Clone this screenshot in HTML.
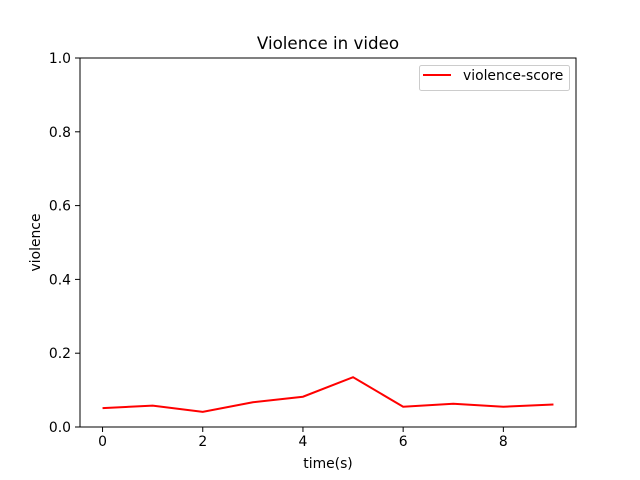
<!DOCTYPE html>
<html><head><meta charset="utf-8"><style>body{margin:0;background:#fff}svg{display:block;font-family:"DejaVu Sans","Liberation Sans",sans-serif}</style></head>
<body>
<svg id="chart" width="640" height="480">
<rect x="0" y="0" width="640" height="480" fill="#fff"/>
<g id="ticks"></g>
<polyline id="line" fill="none" stroke="#ff0000" stroke-width="2"/>
<rect x="80" y="58" width="496" height="369" fill="none" stroke="#000" stroke-width="1"/>
<text x="328" y="49" font-size="16.7" text-anchor="middle">Violence in video</text>
<text x="328" y="468" font-size="13.9" text-anchor="middle">time(s)</text>
<text transform="translate(40,242.5) rotate(-90)" font-size="13.9" text-anchor="middle">violence</text>
<g>
<rect x="419.5" y="65.5" width="150" height="25" rx="2" fill="#fff" stroke="#ccc" stroke-width="1"/>
<line x1="423" y1="75" x2="451" y2="75" stroke="#ff0000" stroke-width="2"/>
<text x="463" y="80" font-size="13.9">violence-score</text>
</g>
</svg>
<script>
const times=[0,1,2,3,4,5,6,7,8,9];
const scores=[0.051,0.058,0.041,0.067,0.082,0.135,0.055,0.063,0.055,0.061];
const xTicks=[0,2,4,6,8];
const yTicks=[0.0,0.2,0.4,0.6,0.8,1.0];
const X=v=>80+(v+0.45)/9.9*496;
const Y=v=>427-v*369;
document.getElementById('line').setAttribute('points',times.map((t,i)=>X(t)+','+Y(scores[i])).join(' '));
const g=document.getElementById('ticks');const ns='http://www.w3.org/2000/svg';
function mk(tag,a){const e=document.createElementNS(ns,tag);for(const k in a)e.setAttribute(k,a[k]);g.appendChild(e);return e;}
xTicks.forEach(t=>{const x=X(t);
const l=mk('line',{x1:x,x2:x,y1:427,y2:432,stroke:'#000','stroke-width':1});


const s=mk('text',{x:x,y:446,'font-size':13.9,'text-anchor':'middle'});s.textContent=t;

});
yTicks.forEach(t=>{const y=Y(t);
const l=mk('line',{x1:75,x2:80,y1:y,y2:y,stroke:'#000','stroke-width':1});


const s=mk('text',{x:71,y:y+5,'font-size':13.9,'text-anchor':'end'});s.textContent=t.toFixed(1);

});
</script>
</body></html>
